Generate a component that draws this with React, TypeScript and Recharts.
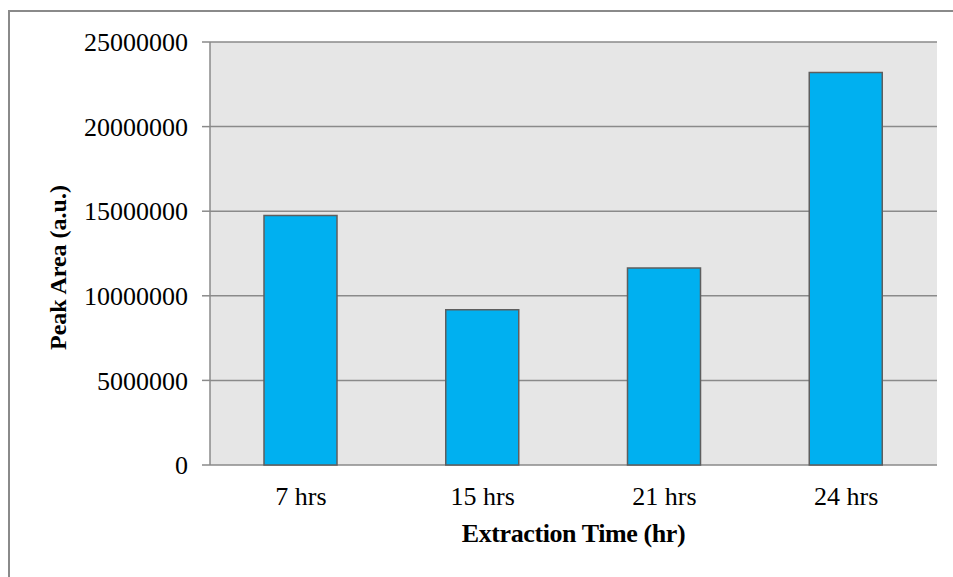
import { Bar, BarChart, CartesianGrid, Label, XAxis, YAxis } from "recharts";

const categories = ["7 hrs", "15 hrs", "21 hrs", "24 hrs"];
const peakArea = [14750000, 9170000, 11650000, 23200000];
const yTicks = [0, 5000000, 10000000, 15000000, 20000000, 25000000];
// category boundaries, where the x axis has its tick marks
const edgeTicks = [0, 1, 2, 3, 4];

const data = categories.map((time, i) => ({ time, area: peakArea[i] }));

const FONT = "'Liberation Serif', 'Times New Roman', serif";
const LINE = "#8a8a8a";
const BAR = "#00b0f0";

function YTitle({ viewBox }: any) {
  const cx = viewBox.x + 58;
  const cy = viewBox.y + viewBox.height / 2 + 14;
  return (
    <text
      x={cx}
      y={cy}
      transform={`rotate(-90 ${cx} ${cy})`}
      textAnchor="middle"
      dominantBaseline="central"
      fontFamily={FONT}
      fontWeight="bold"
      fontSize={24}
      fill="#000"
    >
      Peak Area (a.u.)
    </text>
  );
}

export default function App() {
  return (
    <div style={{ position: "fixed", left: 0, top: 0, width: 953, height: 577, overflow: "hidden", background: "#fff" }}>
      <div
        style={{
          position: "absolute",
          left: 8,
          top: 10,
          width: 1100,
          height: 800,
          borderLeft: `2.5px solid ${LINE}`,
          borderTop: `2.5px solid ${LINE}`,
        }}
      />
      <div style={{ position: "absolute", left: 0, top: 0 }}>
        <BarChart width={953} height={577} data={data} margin={{ top: 42, right: 16, bottom: 0, left: 0 }}>
          <CartesianGrid vertical={false} fill="#e6e6e6" fillOpacity={1} stroke={LINE} strokeWidth={1.5} />
          <XAxis
            xAxisId={0}
            type="number"
            domain={[0, 4]}
            ticks={edgeTicks}
            allowDataOverflow
            height={0}
            tickSize={8}
            tickFormatter={() => ""}
            stroke={LINE}
            strokeWidth={1.5}
          />
          <XAxis
            xAxisId="cat"
            dataKey="time"
            height={112}
            interval={0}
            axisLine={false}
            tickLine={false}
            tickSize={8}
            tickMargin={14}
            tick={{ fill: "#000", fontSize: 26, fontFamily: FONT }}
          >
            <Label
              value="Extraction Time (hr)"
              position="insideBottom"
              offset={35}
              fill="#000"
              fontSize={26}
              fontWeight="bold"
              fontFamily={FONT}
              letterSpacing={-0.4}
            />
          </XAxis>
          <YAxis
            width={210}
            domain={[0, 25000000]}
            ticks={yTicks}
            interval={0}
            tickSize={8}
            tickMargin={14}
            stroke={LINE}
            strokeWidth={1.5}
            tick={{ fill: "#000", fontSize: 26, fontFamily: FONT }}
          >
            <Label content={<YTitle />} />
          </YAxis>
          <Bar
            xAxisId="cat"
            dataKey="area"
            barSize={73}
            fill={BAR}
            stroke="#5e5e5e"
            strokeWidth={1.5}
            isAnimationActive={false}
          />
        </BarChart>
      </div>
    </div>
  );
}
